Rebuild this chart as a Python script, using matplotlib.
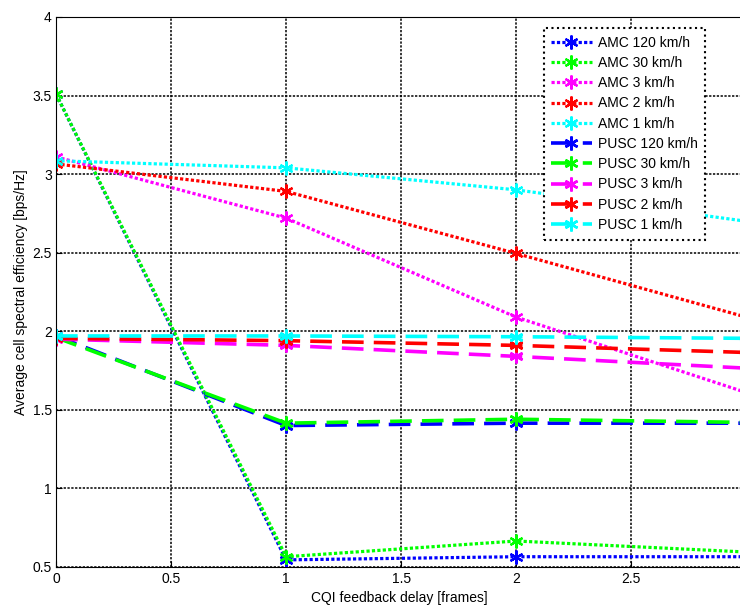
import numpy as np
import matplotlib
matplotlib.use("Agg")
import matplotlib.pyplot as plt

plt.rcParams['font.family'] = ['Liberation Sans', 'DejaVu Sans']

# CQI feedback delay [frames]
delay = [0, 1, 2, 3]

# AMC curves (dotted)
amc_120 = [3.51, 0.545, 0.565, 0.565]
amc_30 = [3.51, 0.565, 0.665, 0.595]
amc_3 = [3.11, 2.72, 2.09, 1.61]
amc_2 = [3.065, 2.89, 2.495, 2.09]
amc_1 = [3.085, 3.04, 2.90, 2.70]

# PUSC curves (dashed)
pusc_120 = [1.97, 1.40, 1.415, 1.415]
pusc_30 = [1.96, 1.415, 1.44, 1.42]
pusc_3 = [1.95, 1.91, 1.84, 1.765]
pusc_2 = [1.955, 1.94, 1.91, 1.865]
pusc_1 = [1.97, 1.97, 1.965, 1.955]

amc = [amc_120, amc_30, amc_3, amc_2, amc_1]
pusc = [pusc_120, pusc_30, pusc_3, pusc_2, pusc_1]
speeds = ['120 km/h', '30 km/h', '3 km/h', '2 km/h', '1 km/h']
colors = ['#0000ff', '#00ff00', '#ff00ff', '#ff0000', '#00ffff']

star = (6, 2, 0)  # matlab-like asterisk

fig = plt.figure(figsize=(7.4, 6.07), dpi=100)
ax = fig.add_axes([0.0757, 0.066, 0.928, 0.906])

for vals, sp, c in zip(amc, speeds, colors):
    ax.plot(delay, vals, color=c, lw=2.3, dashes=(1.0, 0.7), marker=star,
            ms=10, mew=1.6, label='AMC ' + sp)
for vals, sp, c in zip(pusc, speeds, colors):
    ax.plot(delay, vals, color=c, lw=2.6, dashes=(6.0, 2.8), marker=star,
            ms=10, mew=1.8, label='PUSC ' + sp)

ax.set_xlim(0, 2.985)
ax.set_ylim(0.5, 4)
ax.set_xticks([0, 0.5, 1, 1.5, 2, 2.5])
ax.set_xticklabels(['0', '0.5', '1', '1.5', '2', '2.5'])
ax.set_yticks([0.5, 1, 1.5, 2, 2.5, 3, 3.5, 4])
ax.set_yticklabels(['0.5', '1', '1.5', '2', '2.5', '3', '3.5', '4'])
ax.tick_params(direction='in', length=4, labelsize=10, colors='black')
ax.tick_params(axis='x', pad=4)
ax.tick_params(axis='y', pad=3)
ax.grid(True, color='black', linestyle=(0, (1.5, 1)), lw=1.1)
for s in ax.spines.values():
    s.set_linewidth(0.8)
    s.set_color('black')

ax.set_xlabel('CQI feedback delay [frames]', fontsize=10, labelpad=3)
ax.set_ylabel('Average cell spectral efficiency [bps/Hz]', fontsize=10, labelpad=3)

leg = ax.legend(loc='upper left', bbox_to_anchor=(0.71, 0.98), fontsize=10,
                handlelength=2.9, labelspacing=0.45, borderpad=0.55,
                handletextpad=0.45, borderaxespad=0, fancybox=False,
                framealpha=1, edgecolor='black')
leg.get_frame().set_linewidth(1.5)
leg.get_frame().set_linestyle(':')

fig.savefig('out.png', dpi=100)
